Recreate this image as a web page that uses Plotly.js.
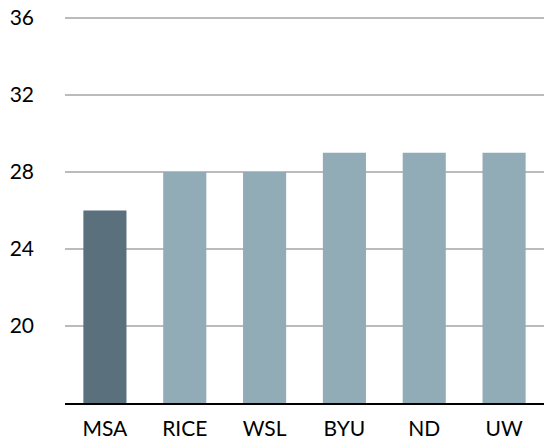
<!DOCTYPE html>
<html>
<head>
<meta charset="utf-8">
<script src="https://cdn.plot.ly/plotly-3.0.1.min.js"></script>
<style>html,body{margin:0;padding:0;background:#fff;}#chart{width:544px;height:440px;}</style>
</head>
<body>
<div id="chart"></div>
<script>
var categories = ["MSA", "RICE", "WSL", "BYU", "ND", "UW"];
var values = [26, 28, 28, 29, 29, 29];
var barColors = ["#5a707c", "#91abb7", "#91abb7", "#91abb7", "#91abb7", "#91abb7"];
var yTicks = [20, 24, 28, 32, 36];

var trace = {
  type: "bar",
  x: categories,
  y: values,
  marker: {color: barColors},
  hoverinfo: "none"
};

var layout = {
  width: 544,
  height: 440,
  margin: {l: 65, r: 0, t: 16, b: 37},
  paper_bgcolor: "#fff",
  plot_bgcolor: "#fff",
  bargap: 0.46,
  showlegend: false,
  font: {family: "Lato, 'Open Sans', sans-serif", size: 21, color: "#000"},
  xaxis: {
    showline: true,
    linecolor: "#000",
    linewidth: 2,
    showgrid: false,
    ticks: "",
    ticklabelstandoff: 6,
    tickfont: {size: 21, color: "#000"}
  },
  yaxis: {
    range: [16, 36.1],
    tickvals: yTicks,
    ticktext: yTicks.map(String),
    showgrid: true,
    gridcolor: "#bbbbbb",
    gridwidth: 2,
    zeroline: false,
    showline: false,
    ticks: "",
    ticklabelstandoff: 30,
    tickfont: {size: 21, color: "#000"}
  }
};

Plotly.newPlot("chart", [trace], layout, {displayModeBar: false, staticPlot: true});
</script>
</body>
</html>
